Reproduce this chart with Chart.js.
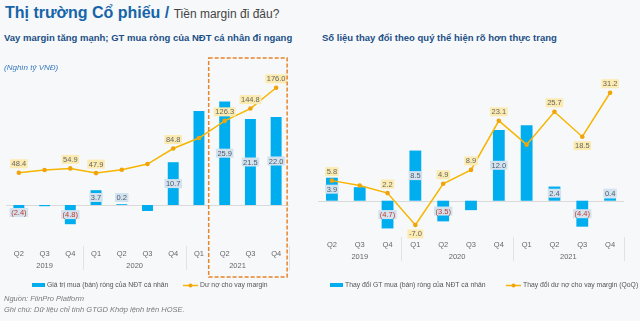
<!DOCTYPE html>
<html>
<head>
<meta charset="utf-8">
<script src="https://cdn.jsdelivr.net/npm/chart.js@4.4.0/dist/chart.umd.min.js"></script>
<style>
  body { margin: 0; width: 640px; height: 321px; background: #f7f8fa; font-family: Arial, "Liberation Sans", sans-serif; position: relative; overflow: hidden; }
  .txt { position: absolute; white-space: nowrap; z-index: 2; }
  #title { left: 5px; top: 4px; font-size: 16px; font-weight: bold; color: #1565a8; }
  #title span { font-size: 12px; font-weight: normal; color: #444; }
  .sub { top: 32px; font-size: 9.5px; font-weight: bold; color: #1b4f86; }
  #unit { left: 4px; top: 63px; font-size: 8px; font-style: italic; color: #3a7bbf; }
  .note { left: 4px; font-size: 7.5px; font-style: italic; color: #7a7a7a; }
  .wrap { position: absolute; top: 50px; height: 255px; }
</style>
</head>
<body>
<div class="txt" id="title">Thị trường Cổ phiếu / <span>Tiền margin đi đâu?</span></div>
<div class="txt sub" style="left:4px">Vay margin tăng mạnh; GT mua ròng của NĐT cá nhân đi ngang</div>
<div class="txt sub" style="left:322px">Số liệu thay đổi theo quý thể hiện rõ hơn thực trạng</div>
<div class="txt" id="unit">(Nghìn tỷ VNĐ)</div>
<div class="txt note" style="top:294px">Nguồn: FiinPro Platform</div>
<div class="txt note" style="top:305px">Ghi chú: Dữ liệu chỉ tính GTGD Khớp lệnh trên HOSE.</div>

<div class="wrap" style="left:0; width:312px"><canvas id="leftChart"></canvas></div>
<div class="wrap" style="left:314px; width:326px"><canvas id="rightChart"></canvas></div>

<script>
const quarters = ['Q2', 'Q3', 'Q4', 'Q1', 'Q2', 'Q3', 'Q4', 'Q1', 'Q2', 'Q3', 'Q4'];
const years = ['2019', '2020', '2021'];
const yearSpans = [3, 4, 4];

// Left: net buying of individual investors vs margin lending balance
const netBuy = [-2.4, -0.3, -4.8, 3.7, 0.2, -1.5, 10.7, 23.5, 25.9, 21.5, 22.0];
const netBuyShown = [1, 0, 1, 1, 1, 0, 1, 0, 1, 1, 1];
const marginDebt = [48.4, 52.5, 54.9, 47.9, 53.0, 61.5, 84.8, 100.5, 126.3, 144.8, 176.0];
const marginDebtShown = [1, 0, 1, 1, 0, 0, 1, 0, 1, 1, 1];

// Right: quarter-on-quarter changes
const netBuyChange = [3.9, 2.3, -4.7, 8.5, -3.5, -1.6, 12.0, 12.8, 2.4, -4.4, 0.4];
const netBuyChangeShown = [1, 0, 1, 1, 1, 0, 1, 0, 1, 1, 1];
const marginChange = [5.8, 4.4, 2.2, -7.0, 4.9, 8.9, 23.1, 16.2, 25.7, 18.5, 31.2];
const marginChangeShown = [1, 0, 1, 1, 1, 1, 1, 0, 1, 1, 1];
const marginChangeBelow = [0, 0, 0, 1, 0, 0, 0, 0, 0, 1, 0];

const BLUE = '#00aeef';
const GOLD = '#f7b500';
const DOT = '#f0a30a';
const FONT = 'Arial, "Liberation Sans", sans-serif';

Chart.defaults.font.family = FONT;
Chart.defaults.color = '#666';

// value boxes on bars and points
const valueLabels = {
    id: 'valueLabels',
    afterDatasetsDraw(chart) {
        const ctx = chart.ctx;
        ctx.save();
        ctx.font = '7.5px ' + FONT;
        ctx.textAlign = 'center';
        ctx.textBaseline = 'middle';
        chart.data.datasets.forEach((ds, di) => {
            const meta = chart.getDatasetMeta(di);
            const zero = chart.scales[ds.yAxisID].getPixelForValue(0);
            meta.data.forEach((el, i) => {
                if (!ds.shown[i]) return;
                const v = ds.data[i];
                let y, text, fill, color;
                if (ds.type === 'bar') {
                    const half = Math.max(Math.abs(el.y - zero) / 2, 7.5);
                    y = v < 0 ? zero + half : zero - half;
                    text = v < 0 ? '(' + Math.abs(v).toFixed(1) + ')' : v.toFixed(1);
                    fill = '#d3e2ef';
                    color = v < 0 ? '#c0392b' : '#4a5a6a';
                } else {
                    y = ds.below && ds.below[i] ? el.y + 9 : el.y - 9;
                    text = v.toFixed(1);
                    fill = '#fcebb0';
                    color = '#666';
                }
                const w = ctx.measureText(text).width + 3;
                ctx.fillStyle = fill;
                ctx.fillRect(el.x - w / 2, y - 4.5, w, 9);
                ctx.fillStyle = color;
                ctx.fillText(text, el.x, y + 0.5);
            });
        });
        ctx.restore();
    }
};

// zero line, year row with separators, legend and the highlight box
const yearAxis = {
    id: 'yearAxis',
    beforeDatasetsDraw(chart) {
        const ctx = chart.ctx, area = chart.chartArea;
        const y0 = Math.round(chart.scales.y.getPixelForValue(0)) + 0.5;
        ctx.save();
        ctx.strokeStyle = '#dadada';
        ctx.lineWidth = 1;
        ctx.beginPath(); ctx.moveTo(area.left, y0); ctx.lineTo(area.right, y0); ctx.stroke();
        ctx.restore();
    },
    afterDraw(chart, args, opts) {
        const ctx = chart.ctx, area = chart.chartArea, x = chart.scales.x;
        const step = x.getPixelForValue(1) - x.getPixelForValue(0);
        ctx.save();
        ctx.font = '7.5px ' + FONT;
        ctx.fillStyle = '#666';
        ctx.textAlign = 'center';
        ctx.textBaseline = 'middle';
        ctx.strokeStyle = '#e2e2e2';
        ctx.lineWidth = 1;
        let start = 0;
        years.forEach((yr, g) => {
            const end = start + yearSpans[g] - 1;
            const x0 = x.getPixelForValue(start), x1 = x.getPixelForValue(end);
            ctx.fillText(yr, (x0 + x1) / 2, area.bottom + 22);
            const edge = Math.round(x1 + step / 2) + 0.5;
            ctx.beginPath();
            ctx.moveTo(edge, area.bottom + 2);
            ctx.lineTo(edge, area.bottom + 26);
            ctx.stroke();
            start = end + 1;
        });

        // legend row
        const ly = opts.legendY;
        ctx.font = '6.8px ' + FONT;
        ctx.textAlign = 'left';
        ctx.fillStyle = '#555';
        chart.data.datasets.forEach((ds, di) => {
            const lx = opts.legendX[di];
            if (ds.type === 'bar') {
                ctx.fillStyle = BLUE;
                ctx.fillRect(lx, ly - 2, 13, 4);
            } else {
                ctx.strokeStyle = GOLD;
                ctx.lineWidth = 1.5;
                ctx.beginPath(); ctx.moveTo(lx, ly + 0.5); ctx.lineTo(lx + 15, ly + 0.5); ctx.stroke();
                ctx.fillStyle = DOT;
                ctx.beginPath(); ctx.arc(lx + 7.5, ly + 0.5, 2, 0, Math.PI * 2); ctx.fill();
            }
            ctx.fillStyle = '#555';
            ctx.fillText(ds.label, lx + (ds.type === 'bar' ? 15 : 17), ly + 0.5);
        });

        if (opts.box) {
            const l = x.getPixelForValue(opts.box[0]) - 16;
            const r = x.getPixelForValue(opts.box[1]) + 11;
            const t = 8, b = area.bottom + 33;
            ctx.strokeStyle = '#e8842a';
            ctx.lineWidth = 1.5;
            ctx.setLineDash([4, 2]);
            ctx.strokeRect(l, t, r - l, b - t);
        }
        ctx.restore();
    }
};

function makeChart(id, cfg) {
    return new Chart(document.getElementById(id), {
        type: 'bar',
        data: {
            labels: quarters,
            datasets: [{
                type: 'bar',
                label: cfg.barName,
                data: cfg.bars,
                shown: cfg.barShown,
                yAxisID: 'y',
                backgroundColor: BLUE,
                barPercentage: 0.85,
                categoryPercentage: 0.5,
                order: 2
            }, {
                type: 'line',
                label: cfg.lineName,
                data: cfg.line,
                shown: cfg.lineShown,
                below: cfg.lineBelow,
                yAxisID: 'y1',
                borderColor: GOLD,
                borderWidth: 1.5,
                pointRadius: 2.3,
                pointBackgroundColor: DOT,
                pointBorderWidth: 0,
                tension: 0,
                order: 1
            }]
        },
        options: {
            responsive: true,
            maintainAspectRatio: false,
            animation: false,
            layout: { padding: { top: 20, left: cfg.padLeft, right: cfg.padRight, bottom: 0 } },
            plugins: {
                legend: { display: false },
                tooltip: { enabled: false },
                yearAxis: { box: cfg.box, legendX: cfg.legendX, legendY: 235 }
            },
            scales: {
                x: {
                    grid: { display: false, drawTicks: false },
                    border: { display: false },
                    ticks: { font: { size: 7.5 }, color: '#666', padding: 5, maxRotation: 0 },
                    afterFit(scale) { scale.height = cfg.axisHeight; }
                },
                y: { display: false, min: cfg.barRange[0], max: cfg.barRange[1] },
                y1: { display: false, min: cfg.lineRange[0], max: cfg.lineRange[1] }
            }
        },
        plugins: [yearAxis, valueLabels]
    });
}

makeChart('leftChart', {
    barName: 'Giá trị mua (bán) ròng của NĐT cá nhân',
    lineName: 'Dư nợ cho vay margin',
    bars: netBuy, barShown: netBuyShown,
    line: marginDebt, lineShown: marginDebtShown, lineBelow: null,
    barRange: [-9.75, 33.75],
    lineRange: [-58.6, 202.7],
    padLeft: 6, padRight: 23,
    axisHeight: 61,
    legendX: [32, 183],
    box: [8, 10]
});

makeChart('rightChart', {
    barName: 'Thay đổi GT mua (bán) ròng của NĐT cá nhân',
    lineName: 'Thay đổi dư nợ cho vay margin (QoQ)',
    bars: netBuyChange, barShown: netBuyChangeShown,
    line: marginChange, lineShown: marginChangeShown, lineBelow: marginChangeBelow,
    barRange: [-5.81, 22.15],
    lineRange: [-9.91, 37.77],
    padLeft: 3, padRight: 16,
    axisHeight: 70,
    legendX: [16, 192],
    box: null
});
</script>
</body>
</html>
